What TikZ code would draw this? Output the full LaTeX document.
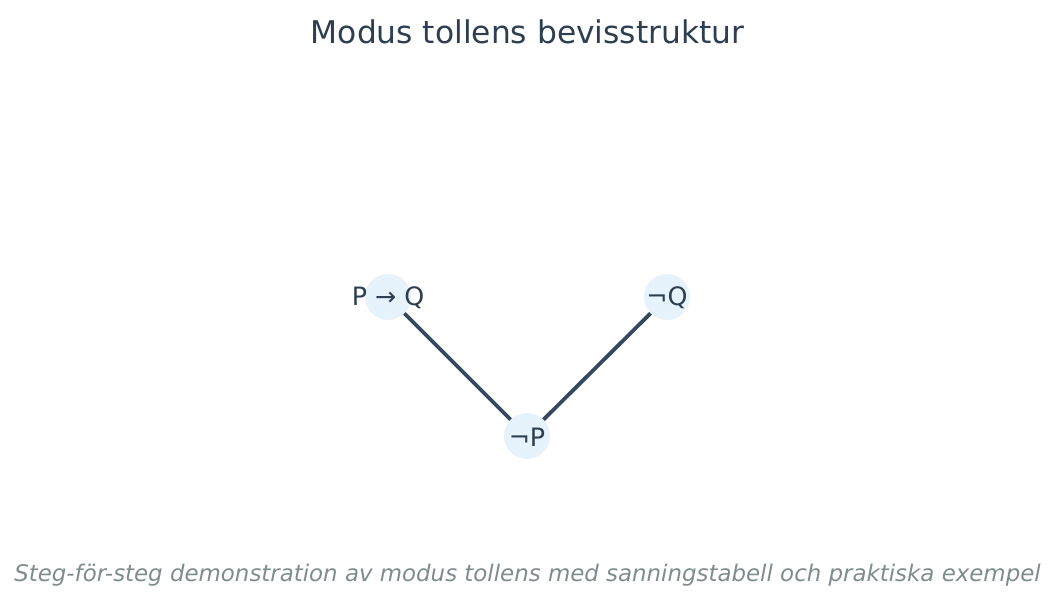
\documentclass[tikz,border=0pt]{standalone}
\usepackage{fontspec}
\setmainfont{DejaVu Sans}
\definecolor{titlec}{HTML}{2C3E50}
\definecolor{subc}{HTML}{7F8C8D}
\definecolor{edgec}{HTML}{34495E}
\definecolor{nodefill}{HTML}{E6F2FC}
\tikzset{
  dot/.style={circle,fill=nodefill,minimum size=46pt,inner sep=0pt},
  lbl/.style={text=titlec,font=\fontsize{25.3}{30}\selectfont,inner sep=0pt},
  conn/.style={draw=edgec,line width=3.8pt}
}
\begin{document}
\begin{tikzpicture}[x=1pt,y=-1pt]
\useasboundingbox (0,0) rectangle (1055,607);
\node[dot] (pq) at (388,297) {};
\node[dot] (nq) at (667,297) {};
\node[dot] (np) at (527,436) {};
\draw[conn] (pq) -- (np);
\draw[conn] (nq) -- (np);
\node[lbl] (tpq) at (388,298) {P → Q};
\node[lbl] (tnq) at (667,298) {¬Q};
\node[lbl] (tnp) at (527,437) {¬P};
\node[text=titlec,font=\fontsize{31.3}{36}\selectfont] (title) at (527.5,32) {Modus tollens bevisstruktur};
\node[text=subc,font=\itshape\fontsize{22.9}{27}\selectfont] (sub) at (527.5,575.5) {Steg-för-steg demonstration av modus tollens med sanningstabell och praktiska exempel};
\end{tikzpicture}
\end{document}
